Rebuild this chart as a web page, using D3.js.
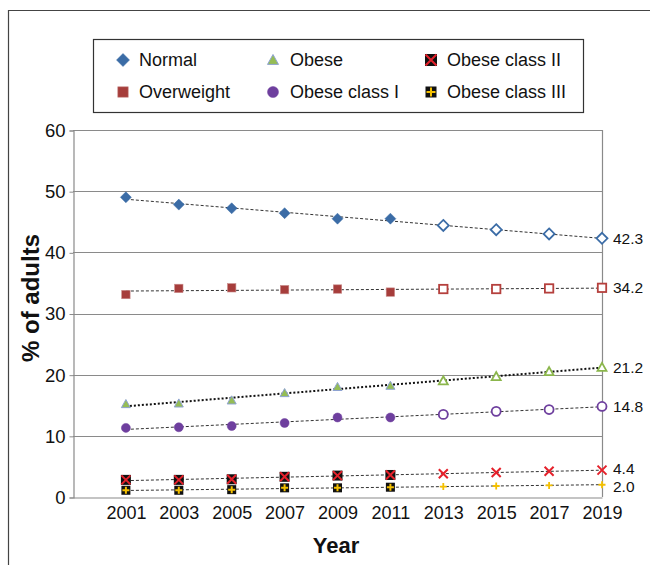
<!DOCTYPE html>
<html><head><meta charset="utf-8">
<script src="https://cdn.jsdelivr.net/npm/d3@7"></script>
<style>body{margin:0;background:#fff}svg{display:block}text{font-family:"Liberation Sans",Arial,Helvetica,sans-serif;fill:#111}</style>
</head><body><svg id="c" width="650" height="565"></svg>
<script>
const years = [2001,2003,2005,2007,2009,2011,2013,2015,2017,2019];
const filledUntil = 2011; // later years are drawn hollow
const normal      = [49.0,47.8,47.2,46.4,45.5,45.5,44.4,43.7,43.0,42.3];
const overweight  = [33.1,34.1,34.2,33.9,34.0,33.5,34.0,34.0,34.1,34.2];
const obese       = [15.2,15.3,15.8,17.0,18.0,18.2,19.0,19.7,20.5,21.2];
const obeseI      = [11.3,11.4,11.6,12.1,13.0,13.0,13.5,14.0,14.3,14.8];
const obeseII     = [2.8,2.8,2.9,3.3,3.5,3.6,3.8,4.0,4.2,4.4];
const obeseIII    = [1.1,1.1,1.2,1.5,1.5,1.6,1.7,1.8,1.9,2.0];
const endLabels   = ["42.3","34.2","21.2","14.8","4.4","2.0"];
const yTicks      = [0,10,20,30,40,50,60];
const seriesNames = ["Normal","Overweight","Obese","Obese class I","Obese class II","Obese class III"];

const series = [
  {name:seriesNames[0], values:normal,     type:"diamond", label:endLabels[0], shift:0},
  {name:seriesNames[1], values:overweight, type:"square",  label:endLabels[1], shift:0},
  {name:seriesNames[2], values:obese,      type:"triangle",label:endLabels[2], shift:0},
  {name:seriesNames[3], values:obeseI,     type:"circle",  label:endLabels[3], shift:0},
  {name:seriesNames[4], values:obeseII,    type:"x",       label:endLabels[4], shift:-1.5},
  {name:seriesNames[5], values:obeseIII,   type:"plus",    label:endLabels[5], shift:1.5}
];

const svg = d3.select("#c");
const x = d3.scaleLinear().domain([1999,2019]).range([73,602]);
const y = d3.scaleLinear().domain([0,60]).range([497,130]);

// outer frame
svg.append("path").attr("d","M8.5,565 V10.5 H650").attr("fill","none").attr("stroke","#444").attr("stroke-width",1.2);

// gridlines
svg.append("g").selectAll("line").data(yTicks.filter(d=>d>0)).join("line")
  .attr("x1",73).attr("x2",602).attr("y1",d=>Math.round(y(d))+0.5).attr("y2",d=>Math.round(y(d))+0.5)
  .attr("stroke","#8a8a8a").attr("stroke-width",1.2);
// right border
svg.append("line").attr("x1",602.5).attr("x2",602.5).attr("y1",130).attr("y2",497).attr("stroke","#8a8a8a").attr("stroke-width",1.2);

// y axis
const ya = svg.append("g").attr("transform","translate(73.5,0.5)")
  .call(d3.axisLeft(y).tickValues(yTicks).tickSize(4).tickPadding(4));
ya.select(".domain").attr("stroke","#8a8a8a").attr("stroke-width",1.2);
ya.selectAll(".tick line").attr("stroke","#8a8a8a");
ya.selectAll("text").attr("font-size",18.5).attr("fill","#111").attr("font-family","Liberation Sans, Arial, sans-serif");

// x axis
const xa = svg.append("g").attr("transform","translate(0,497.5)")
  .call(d3.axisBottom(x).tickValues(years).tickFormat(d3.format("d")).tickSize(0).tickPadding(9));
xa.select(".domain").attr("stroke","#8a8a8a").attr("stroke-width",1.2);
xa.selectAll("text").attr("font-size",18).attr("fill","#111").attr("font-family","Liberation Sans, Arial, sans-serif");

// axis titles
svg.append("text").attr("x",336).attr("y",553).attr("text-anchor","middle")
  .attr("font-size",22).attr("font-weight","bold").text("Year");
svg.append("text").attr("transform","translate(39,298) rotate(-90)").attr("text-anchor","middle")
  .attr("font-size",24).attr("font-weight","bold").text("% of adults");

// trend lines (least squares over the series values)
function fit(vals){
  const mx=d3.mean(years), my=d3.mean(vals);
  let sxy=0,sxx=0; years.forEach((t,i)=>{sxy+=(t-mx)*(vals[i]-my);sxx+=(t-mx)*(t-mx);});
  const b=sxy/sxx; return t=>my+b*(t-mx);
}
const tg = svg.append("g");
series.forEach(s=>{
  const f=fit(s.values);
  const heavy = s.type==="triangle";
  tg.append("line").attr("x1",x(years[0])).attr("x2",x(years[years.length-1]))
    .attr("y1",y(f(years[0]))).attr("y2",y(f(years[years.length-1])))
    .attr("stroke",heavy?"#111":"#333").attr("stroke-width",heavy?2:1)
    .attr("stroke-dasharray",heavy?"2,2":"3,2");
});

// markers
function marker(g,type,filled,size){
  const s=size;
  if(type==="diamond"){
    const h=s/2+0.5;
    g.append("path").attr("d",`M0,${-h}L${h},0L0,${h}L${-h},0Z`)
      .attr("fill",filled?"#3b6ca6":"#fff").attr("stroke","#3b6ca6").attr("stroke-width",filled?0.5:1.8);
  } else if(type==="square"){
    const h=s/2-0.8;
    g.append("rect").attr("x",-h).attr("y",-h).attr("width",2*h).attr("height",2*h)
      .attr("fill",filled?"#a63d3b":"#fff").attr("stroke",filled?"#c98a89":"#b5403d").attr("stroke-width",filled?0.6:1.8);
  } else if(type==="triangle"){
    const h=s/2-0.5;
    g.append("path").attr("d",`M0,${-h}L${h},${h*0.8}L${-h},${h*0.8}Z`)
      .attr("fill",filled?"#95bd55":"#fff").attr("stroke",filled?"#8ea3d2":"#8bb64c").attr("stroke-width",filled?1:1.8);
  } else if(type==="circle"){
    g.append("circle").attr("r",s/2-0.5)
      .attr("fill",filled?"#6e3f9e":"#fff").attr("stroke","#6e3f9e").attr("stroke-width",filled?0.5:1.8);
  } else if(type==="x"){
    const h=s/2;
    if(filled) g.append("rect").attr("x",-h).attr("y",-h).attr("width",2*h).attr("height",2*h).attr("fill","#111");
    g.append("path").attr("d",`M${-h+0.5},${-h+0.5}L${h-0.5},${h-0.5}M${h-0.5},${-h+0.5}L${-h+0.5},${h-0.5}`)
      .attr("stroke","#e5212b").attr("stroke-width",2);
  } else if(type==="plus"){
    const h=s/2;
    if(filled) g.append("rect").attr("x",-h+0.5).attr("y",-h+0.5).attr("width",2*h-1).attr("height",2*h-1).attr("fill","#111");
    const a=h-1.5;
    g.append("path").attr("d",`M${-a},0L${a},0M0,${-a}L0,${a}`)
      .attr("stroke","#f4c000").attr("stroke-width",filled?2:1.8);
  }
}
const mg = svg.append("g");
series.forEach(s=>{
  s.values.forEach((v,i)=>{
    const g=mg.append("g").attr("transform",`translate(${x(years[i])},${y(v)})`);
    marker(g,s.type,years[i]<=filledUntil,10);
  });
  svg.append("text").attr("x",613).attr("y",y(s.values[s.values.length-1])+s.shift).attr("dy","0.35em")
    .attr("font-size",15.5).text(s.label);
});

// legend
svg.append("rect").attr("x",93.5).attr("y",39.5).attr("width",490).attr("height",73)
  .attr("fill","#fff").attr("stroke","#333").attr("stroke-width",1.2);
const lx=[123,273,431], ly=[60,92], tx=[139,290,447];
series.forEach((s,i)=>{
  const col=Math.floor(i/2), row=i%2;
  const g=svg.append("g").attr("transform",`translate(${lx[col]},${ly[row]})`);
  marker(g,s.type,true,12);
  svg.append("text").attr("x",tx[col]).attr("y",ly[row]).attr("dy","0.36em").attr("font-size",18).text(s.name);
});
</script></body></html>
